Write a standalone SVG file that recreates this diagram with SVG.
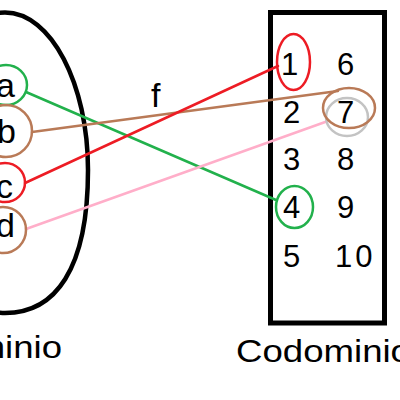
<svg xmlns="http://www.w3.org/2000/svg" width="400" height="400" viewBox="0 0 400 400">
<style>
text{font-family:"Liberation Sans",Arial,sans-serif;fill:#000}
.lt{font-size:34px;text-anchor:end}
.num{font-size:31px}
.lbl{font-size:31px}
.ln{fill:none;stroke-width:2.5;stroke-linecap:round}
.ring{fill:none;stroke-width:2.5}
</style>
<rect width="400" height="400" fill="#fff"/>
<g id="dominio">
<path d="M5,12.5 C51,12.5 88,84 88,170 C88,270 55,313 5,313 C-45,313 -78,250 -78,165 C-78,80 -41,12.5 5,12.5 Z" fill="none" stroke="#000" stroke-width="4.5"/>
<text class="lbl" x="-72" y="358" textLength="134" lengthAdjust="spacingAndGlyphs">Dominio</text>
</g>
<g id="codominio">
<rect x="270.5" y="12.5" width="114" height="310.5" fill="none" stroke="#000" stroke-width="5"/>
<text class="lbl" x="236" y="362" textLength="175" lengthAdjust="spacingAndGlyphs">Codominio</text>
</g>
<g id="connectors">
<line class="ln" x1="26" y1="92" x2="276" y2="200" stroke="#22b14c"/>
<line class="ln" x1="32" y1="132" x2="338" y2="91" stroke="#b97a57"/>
<line class="ln" x1="25" y1="183" x2="278" y2="66" stroke="#ed1c24"/>
<line class="ln" x1="26" y1="229" x2="328" y2="121" stroke="#ffaec9"/>
<text x="151" y="107" style="font-size:34px">f</text>
</g>
<g id="node-a"><ellipse class="ring" cx="6" cy="85" rx="21" ry="20" stroke="#22b14c"/><text class="lt" x="15" y="97">a</text></g>
<g id="node-b"><ellipse class="ring" cx="6" cy="131" rx="26" ry="26" stroke="#b97a57"/><text class="lt" x="16" y="143">b</text></g>
<g id="node-c"><ellipse class="ring" cx="5" cy="182.5" rx="20" ry="19.5" stroke="#ed1c24"/><text class="lt" x="13" y="198">c</text></g>
<g id="node-d"><ellipse class="ring" cx="3" cy="230" rx="23" ry="23" stroke="#b97a57"/><text class="lt" x="15" y="237">d</text></g>
<g id="node-1"><ellipse class="ring" cx="293.5" cy="62" rx="16.5" ry="28" stroke="#ed1c24"/><text class="num" x="281" y="75">1</text></g>
<g id="node-2"><text class="num" x="283" y="123">2</text></g>
<g id="node-3"><text class="num" x="283" y="170">3</text></g>
<g id="node-4"><ellipse class="ring" cx="294.5" cy="207" rx="18.5" ry="21" stroke="#22b14c"/><text class="num" x="283" y="218">4</text></g>
<g id="node-5"><text class="num" x="283" y="267">5</text></g>
<g id="node-6"><text class="num" x="337" y="75">6</text></g>
<g id="node-7"><ellipse class="ring" cx="347" cy="117" rx="21" ry="19" stroke="#c3c3c3"/><ellipse class="ring" cx="349" cy="108" rx="26" ry="20" stroke="#b97a57"/><text class="num" x="337" y="123">7</text></g>
<g id="node-8"><text class="num" x="337" y="170">8</text></g>
<g id="node-9"><text class="num" x="337" y="218">9</text></g>
<g id="node-10"><text class="num" x="335" y="267" letter-spacing="3">10</text></g>
</svg>
